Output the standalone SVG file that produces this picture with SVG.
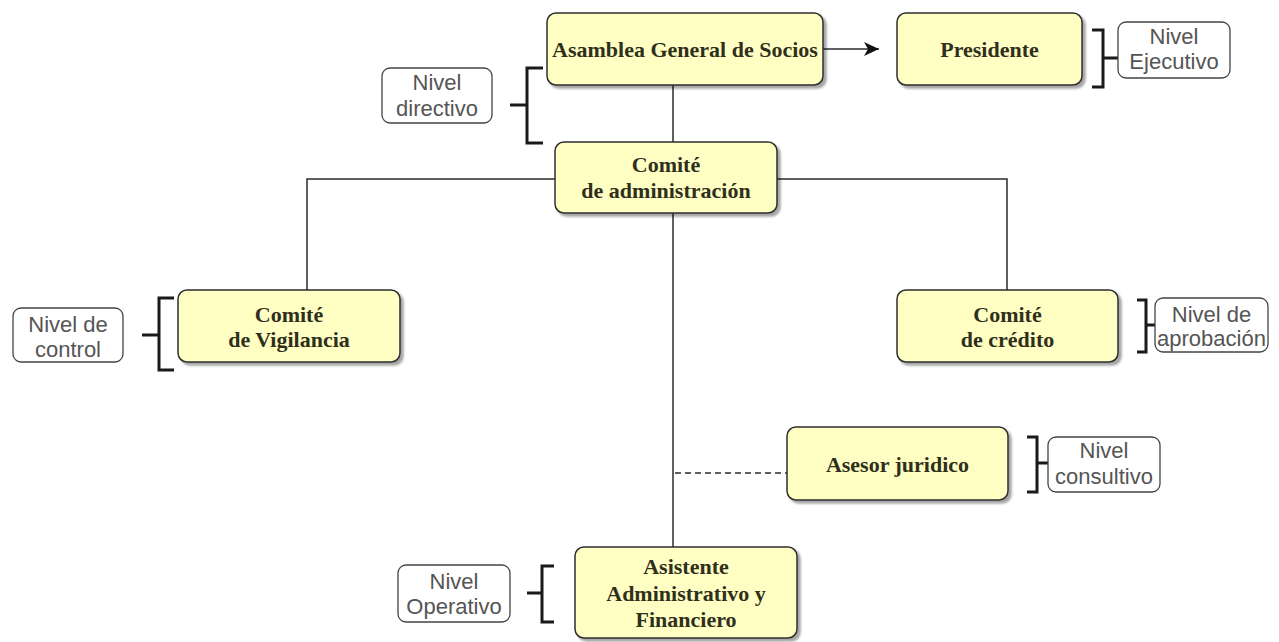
<svg xmlns="http://www.w3.org/2000/svg" width="1279" height="642" viewBox="0 0 1279 642">
  <style>
    .node rect { fill: #ffffc4; stroke: #2e2e2e; stroke-width: 1.5; filter: url(#shadow); }
    .node text { font-family: "Liberation Serif", "Times New Roman", serif; font-weight: bold; font-size: 22px; fill: #2f2f1c; text-anchor: middle; }
    .label rect { fill: #ffffff; stroke: #444444; stroke-width: 1.3; }
    .label text { font-family: "Liberation Sans", Arial, sans-serif; font-size: 22px; fill: #555555; text-anchor: middle; }
    .bracket { fill: none; stroke: #1a1a1a; stroke-width: 3; }
    .edge { fill: none; stroke: #2b2b2b; stroke-width: 1.5; }
    .dashed { stroke-dasharray: 6 4; }
  </style>
  <defs>
    <filter id="shadow" x="-10%" y="-10%" width="130%" height="140%">
      <feDropShadow dx="3" dy="3" stdDeviation="1.2" flood-color="#000000" flood-opacity="0.35"/>
    </filter>
    <marker id="arrow" markerWidth="16" markerHeight="14" refX="15" refY="7" orient="auto" markerUnits="userSpaceOnUse">
      <path d="M0,0 L15,7 L0,14 L4,7 Z" fill="#111111"/>
    </marker>
  </defs>
  <rect width="1279" height="642" fill="#ffffff"/>

  <!-- connectors -->
  <g id="connectors">
    <path class="edge" d="M823,49 H879" marker-end="url(#arrow)"/>
    <path class="edge" d="M673,85 V142"/>
    <path class="edge" d="M555,179 H307 V290"/>
    <path class="edge" d="M777,179 H1007 V290"/>
    <path class="edge" d="M673,213 V547" stroke="#555555"/>
    <path class="edge dashed" d="M675,473 H787"/>
  </g>

  <!-- level brackets -->
  <g id="brackets">
    <path class="bracket" d="M543,68 H527 V143 H543 M510,105 H527"/>
    <path class="bracket" d="M1092,30 H1103 V87 H1092 M1103,58 H1118"/>
    <path class="bracket" d="M174,298 H159 V370 H174 M142,335 H159"/>
    <path class="bracket" d="M1137,300 H1146 V352 H1137 M1146,325 H1155"/>
    <path class="bracket" d="M1027,437 H1037 V492 H1027 M1037,463 H1048"/>
    <path class="bracket" d="M554,566 H542 V622 H554 M527,593 H542"/>
  </g>

  <!-- organisation nodes -->
  <g id="asamblea" class="node">
    <rect x="547" y="13" width="276" height="72" rx="9"/>
    <text x="685" y="57">Asamblea General de Socios</text>
  </g>
  <g id="presidente" class="node">
    <rect x="897" y="13" width="185" height="72" rx="9"/>
    <text x="989.5" y="57">Presidente</text>
  </g>
  <g id="comite-administracion" class="node">
    <rect x="555" y="142" width="222" height="71" rx="9"/>
    <text x="666" y="172">Comité</text>
    <text x="666" y="198">de administración</text>
  </g>
  <g id="comite-vigilancia" class="node">
    <rect x="178" y="290" width="222" height="72" rx="9"/>
    <text x="289" y="322">Comité</text>
    <text x="289" y="347">de Vigilancia</text>
  </g>
  <g id="comite-credito" class="node">
    <rect x="897" y="290" width="221" height="72" rx="9"/>
    <text x="1007.5" y="322">Comité</text>
    <text x="1007.5" y="347">de crédito</text>
  </g>
  <g id="asesor-juridico" class="node">
    <rect x="787" y="427" width="221" height="73" rx="9"/>
    <text x="897.5" y="472">Asesor juridico</text>
  </g>
  <g id="asistente" class="node">
    <rect x="575" y="547" width="222" height="91" rx="9"/>
    <text x="686" y="574">Asistente</text>
    <text x="686" y="601">Administrativo y</text>
    <text x="686" y="627">Financiero</text>
  </g>

  <!-- level labels -->
  <g id="nivel-directivo" class="label">
    <rect x="382" y="68" width="110" height="55" rx="8"/>
    <text x="437" y="90">Nivel</text>
    <text x="437" y="116">directivo</text>
  </g>
  <g id="nivel-ejecutivo" class="label">
    <rect x="1118" y="22" width="112" height="56" rx="8"/>
    <text x="1174" y="44">Nivel</text>
    <text x="1174" y="69">Ejecutivo</text>
  </g>
  <g id="nivel-control" class="label">
    <rect x="13" y="308" width="110" height="54" rx="8"/>
    <text x="68" y="332">Nivel de</text>
    <text x="68" y="357">control</text>
  </g>
  <g id="nivel-aprobacion" class="label">
    <rect x="1155" y="298" width="113" height="54" rx="8"/>
    <text x="1211.5" y="322">Nivel de</text>
    <text x="1211.5" y="346">aprobación</text>
  </g>
  <g id="nivel-consultivo" class="label">
    <rect x="1048" y="437" width="112" height="55" rx="8"/>
    <text x="1104" y="458">Nivel</text>
    <text x="1104" y="484">consultivo</text>
  </g>
  <g id="nivel-operativo" class="label">
    <rect x="398" y="565" width="112" height="57" rx="8"/>
    <text x="454" y="589">Nivel</text>
    <text x="454" y="614">Operativo</text>
  </g>
</svg>
